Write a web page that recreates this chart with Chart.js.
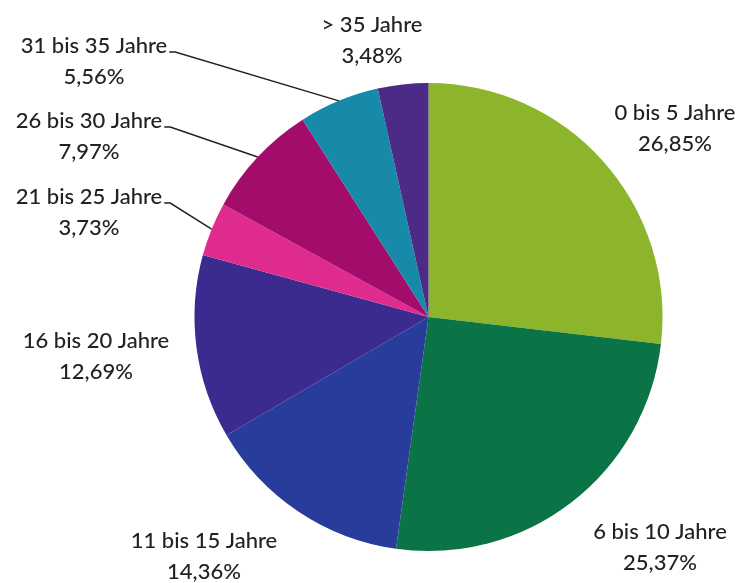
<!DOCTYPE html>
<html>
<head>
<meta charset="utf-8">
<script src="https://cdn.jsdelivr.net/npm/chart.js@4/dist/chart.umd.min.js"></script>
<style>
  html, body { margin: 0; padding: 0; background: #fff; }
  #wrap { width: 753px; height: 583px; }
</style>
</head>
<body>
<div id="wrap"><canvas id="chart" width="753" height="583"></canvas></div>
<script>
// data
const categories = ['0 bis 5 Jahre', '6 bis 10 Jahre', '11 bis 15 Jahre', '16 bis 20 Jahre',
                    '21 bis 25 Jahre', '26 bis 30 Jahre', '31 bis 35 Jahre', '> 35 Jahre'];
const shares = [26.85, 25.37, 14.36, 12.69, 3.73, 7.97, 5.56, 3.48];
const shareLabels = ['26,85%', '25,37%', '14,36%', '12,69%', '3,73%', '7,97%', '5,56%', '3,48%'];
const colors = ['#8cb52b', '#0b7447', '#283c9b', '#3b2b8e', '#df2a8e', '#a30c6b', '#1789a9', '#4b2b86'];

// label centres (first line) and whether a leader line is drawn
const labelPos = [
    { x: 675, y: 113, leader: false },
    { x: 660, y: 532, leader: false },
    { x: 204, y: 541, leader: false },
    { x: 96,  y: 341, leader: false },
    { x: 89,  y: 197, leader: true },
    { x: 89,  y: 121, leader: true },
    { x: 94,  y: 46,  leader: true },
    { x: 372, y: 25,  leader: false }
];

const FONT = '500 22px Lato, "Open Sans", sans-serif';

const labelPlugin = {
    id: 'pieLabels',
    afterDraw(chart) {
        const ctx = chart.ctx;
        const arcs = chart.getDatasetMeta(0).data;
        ctx.save();
        ctx.font = FONT;
        ctx.fillStyle = '#222';
        ctx.textAlign = 'center';
        ctx.textBaseline = 'middle';
        arcs.forEach((arc, i) => {
            const p = labelPos[i];
            ctx.fillText(categories[i], p.x, p.y);
            ctx.fillText(shareLabels[i], p.x, p.y + 31);
            if (p.leader) {
                const mid = (arc.startAngle + arc.endAngle) / 2;
                const ex = arc.x + Math.cos(mid) * arc.outerRadius;
                const ey = arc.y + Math.sin(mid) * arc.outerRadius;
                const w = ctx.measureText(categories[i]).width;
                const sx = p.x + w / 2 + 2;
                ctx.strokeStyle = '#222';
                ctx.lineWidth = 1.5;
                ctx.beginPath();
                ctx.moveTo(sx, p.y + 6);
                ctx.lineTo(sx + 6, p.y + 6);
                ctx.lineTo(ex, ey);
                ctx.stroke();
            }
        });
        ctx.restore();
    }
};

new Chart(document.getElementById('chart'), {
    type: 'pie',
    data: {
        labels: categories,
        datasets: [
            {
                data: shares,
                backgroundColor: colors,
                borderWidth: 0
            }
        ]
    },
    options: {
        responsive: false,
        animation: false,
        layout: { padding: { top: 83, bottom: 32, left: 194, right: 90 } },
        plugins: {
            legend: { display: false },
            tooltip: { enabled: false }
        }
    },
    plugins: [labelPlugin]
});
</script>
</body>
</html>
